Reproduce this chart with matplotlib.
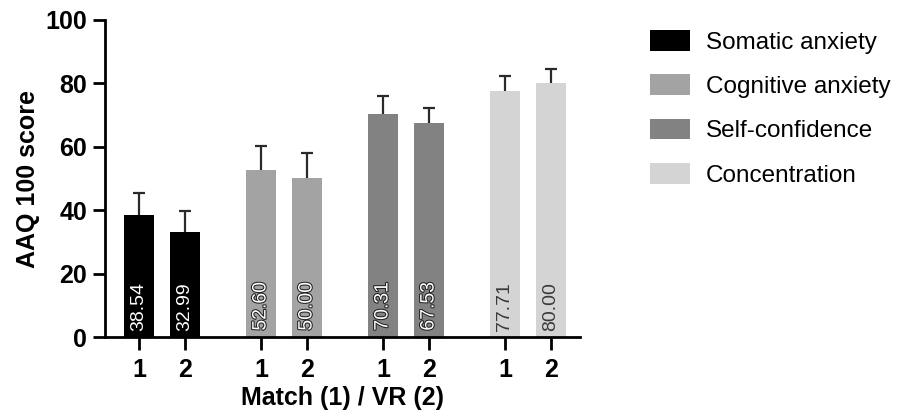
import matplotlib.pyplot as plt
import matplotlib.patheffects as pe
import numpy as np

plt.rcParams['font.family'] = ['Liberation Sans', 'DejaVu Sans']

# Data
categories = ["Somatic anxiety", "Cognitive anxiety", "Self-confidence", "Concentration"]
conditions = ["1", "2"]  # Match (1) / VR (2)
means = [
    [38.54, 32.99],
    [52.60, 50.00],
    [70.31, 67.53],
    [77.71, 80.00],
]
errors = [
    [6.9, 6.8],
    [7.7, 8.2],
    [5.6, 4.7],
    [4.7, 4.6],
]
colors = ["#000000", "#a3a3a3", "#828282", "#d4d4d4"]
text_colors = ["white", "white", "white", "#3a3a3a"]

fig = plt.figure(figsize=(8.99, 4.19), dpi=100)
ax = fig.add_axes([105 / 899, 82 / 419, 475 / 899, 317 / 419])

group_gap = 2.65
width = 0.65
xticks, xlabels = [], []
for g, cat in enumerate(categories):
    xs = g * group_gap + np.arange(len(conditions))
    ax.bar(xs, means[g], width, color=colors[g], label=cat, zorder=2)
    eb = ax.errorbar(xs, means[g], yerr=[np.zeros(len(xs)), errors[g]], fmt='none',
                     ecolor='#2a2a2a', elinewidth=1.6, capsize=4.5, capthick=1.6, zorder=1)
    eb[1][0].set_visible(False)  # only the upper cap
    for x, v in zip(xs, means[g]):
        t = ax.text(x, 2, f"{v:.2f}", rotation=90, ha='center', va='bottom',
                    fontsize=14, color=text_colors[g], zorder=4)
        if g in (1, 2):
            t.set_path_effects([pe.withStroke(linewidth=1.5, foreground='#222222')])
    xticks.extend(xs)
    xlabels.extend(conditions)

ax.set_xlim(-0.74, 3 * group_gap + 1 + 0.63)
ax.set_ylim(0, 100)
ax.set_yticks(range(0, 101, 20))
ax.set_xticks(xticks)
ax.set_xticklabels(xlabels)

for s in ['top', 'right']:
    ax.spines[s].set_visible(False)
for s in ['left', 'bottom']:
    ax.spines[s].set_linewidth(2)
ax.tick_params(axis='both', length=9, width=2, labelsize=18)
ax.tick_params(axis='x', pad=6)
ax.tick_params(axis='y', pad=4)
for lbl in ax.get_xticklabels() + ax.get_yticklabels():
    lbl.set_fontweight('bold')

ax.set_ylabel("AAQ 100 score", fontsize=18, fontweight='bold', labelpad=4)
ax.set_xlabel("Match (1) / VR (2)", fontsize=18, fontweight='bold', labelpad=3)

fig.legend(loc='upper left', bbox_to_anchor=(650 / 899, 1 - 30 / 419), frameon=False,
           fontsize=17.5, handlelength=1.65, handleheight=0.95, labelspacing=0.84,
           handletextpad=0.65, borderpad=0, borderaxespad=0)

fig.savefig("out.png", dpi=100)
